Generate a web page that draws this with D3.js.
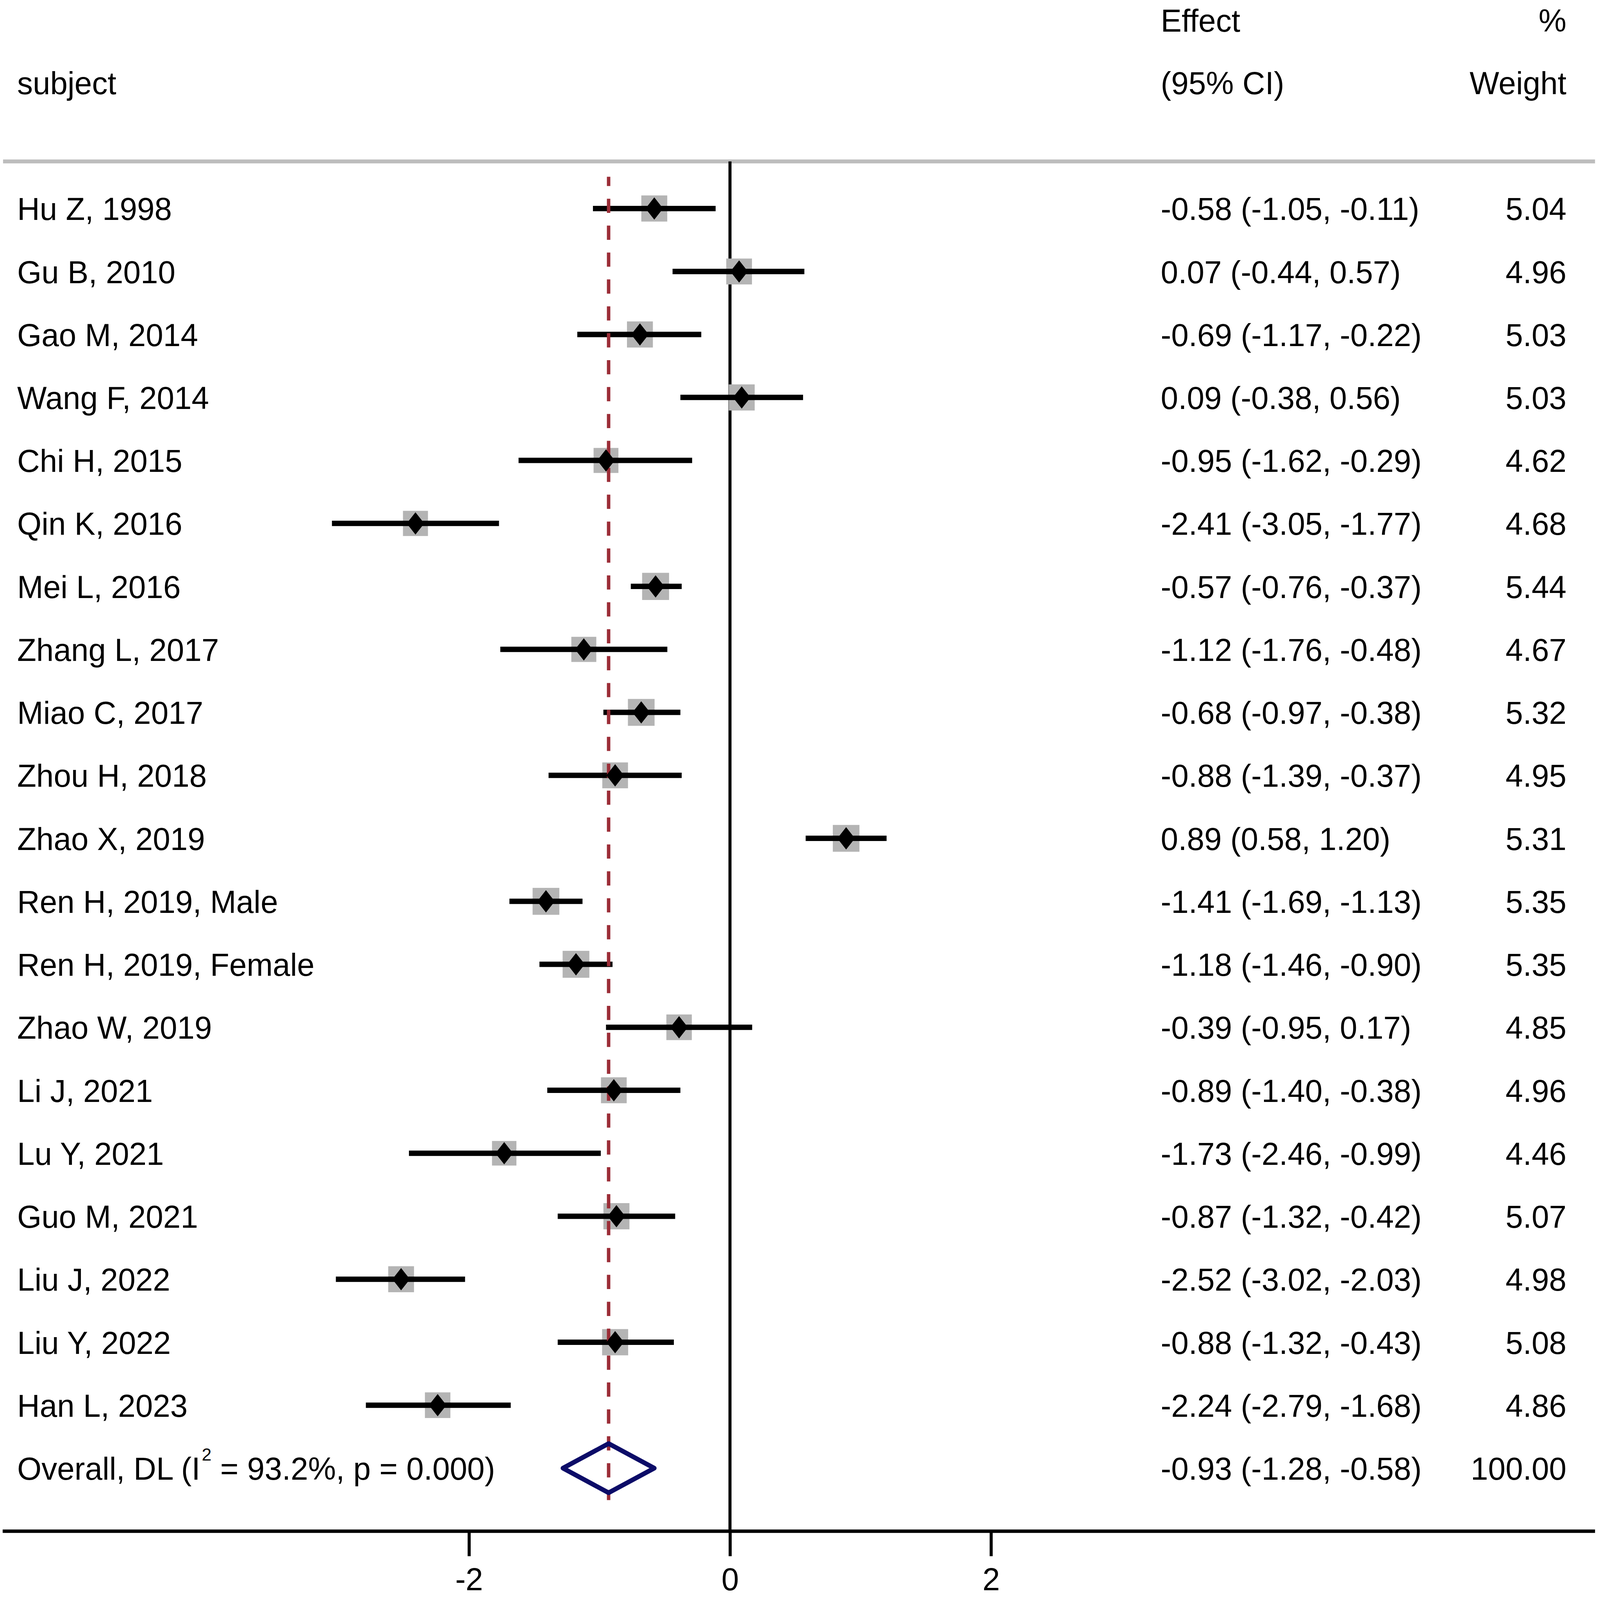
<!DOCTYPE html>
<html>
<head>
<meta charset="utf-8">
<script src="https://cdn.jsdelivr.net/npm/d3@7"></script>
<style>
  html, body { margin: 0; padding: 0; width: 100%; height: 100%; overflow: hidden; background: #fff; }
  #chart, #chart svg { display: block; width: 100vw; height: 100vh; }
  text { font-family: "Liberation Sans", Arial, sans-serif; fill: #000; }
</style>
</head>
<body>
<div id="chart"></div>
<script>
// Forest plot - random-effects meta-analysis (DL)
const studies = [
    "Hu Z, 1998", "Gu B, 2010", "Gao M, 2014", "Wang F, 2014", "Chi H, 2015",
    "Qin K, 2016", "Mei L, 2016", "Zhang L, 2017", "Miao C, 2017", "Zhou H, 2018",
    "Zhao X, 2019", "Ren H, 2019, Male", "Ren H, 2019, Female", "Zhao W, 2019", "Li J, 2021",
    "Lu Y, 2021", "Guo M, 2021", "Liu J, 2022", "Liu Y, 2022", "Han L, 2023"
];
const effects = [-0.58, 0.07, -0.69, 0.09, -0.95, -2.41, -0.57, -1.12, -0.68, -0.88,
    0.89, -1.41, -1.18, -0.39, -0.89, -1.73, -0.87, -2.52, -0.88, -2.24];
const lower = [-1.05, -0.44, -1.17, -0.38, -1.62, -3.05, -0.76, -1.76, -0.97, -1.39,
    0.58, -1.69, -1.46, -0.95, -1.40, -2.46, -1.32, -3.02, -1.32, -2.79];
const upper = [-0.11, 0.57, -0.22, 0.56, -0.29, -1.77, -0.37, -0.48, -0.38, -0.37,
    1.20, -1.13, -0.90, 0.17, -0.38, -0.99, -0.42, -2.03, -0.43, -1.68];
const weights = [5.04, 4.96, 5.03, 5.03, 4.62, 4.68, 5.44, 4.67, 5.32, 4.95,
    5.31, 5.35, 5.35, 4.85, 4.96, 4.46, 5.07, 4.98, 5.08, 4.86];

const overallEst = -0.93, overallLo = -1.28, overallHi = -0.58;
const overallI2 = "93.2%", overallP = "0.000";
const xTicks = [-2, 0, 2];

const W = 4193, H = 4163;
const fontSize = 82;
const colEffect = 3042, colWeight = 4105, colLabel = 45;
const sepY = 420, axisY = 3984;

const svg = d3.select("#chart")
    .append("svg")
    .attr("viewBox", `0 0 ${W} ${H}`)
    .attr("preserveAspectRatio", "none");

const x = d3.scaleLinear().domain([-2, 2]).range([1229, 2597]);
const y = d3.scaleLinear().domain([0, studies.length]).range([542.5, 3820]);
const box = d3.scaleSqrt().domain([0, 5.04]).range([0, 68]);

const fmt = v => v.toFixed(2);   // keep ASCII hyphen for negatives
const rows = studies.map((name, i) => ({
    name, i, es: effects[i], lo: lower[i], hi: upper[i], w: weights[i]
}));

// Header
const header = svg.append("g").attr("font-size", fontSize);
header.append("text").attr("x", colLabel).attr("y", 245).text("subject");
header.append("text").attr("x", colEffect).attr("y", 82).text("Effect");
header.append("text").attr("x", colEffect).attr("y", 245).text("(95% CI)");
header.append("text").attr("x", colWeight).attr("y", 82).attr("text-anchor", "end").text("%");
header.append("text").attr("x", colWeight).attr("y", 245).attr("text-anchor", "end").text("Weight");

// Separator under the header
svg.append("line")
    .attr("x1", 8).attr("x2", 4180)
    .attr("y1", sepY).attr("y2", sepY)
    .attr("stroke", "#bdbdbd").attr("stroke-width", 10);

// Null line
svg.append("line")
    .attr("x1", x(0)).attr("x2", x(0))
    .attr("y1", sepY).attr("y2", axisY)
    .attr("stroke", "#000").attr("stroke-width", 8);

// Weight boxes
svg.selectAll(".wbox")
    .data(rows)
    .enter()
    .append("rect")
    .attr("class", "wbox")
    .attr("x", d => x(d.es) - box(d.w) / 2)
    .attr("y", d => y(d.i) - box(d.w) / 2)
    .attr("width", d => box(d.w))
    .attr("height", d => box(d.w))
    .attr("fill", "#b4b4b4");

// Confidence intervals
svg.selectAll(".ci")
    .data(rows)
    .enter()
    .append("line")
    .attr("class", "ci")
    .attr("x1", d => x(d.lo)).attr("x2", d => x(d.hi))
    .attr("y1", d => y(d.i)).attr("y2", d => y(d.i))
    .attr("stroke", "#000").attr("stroke-width", 14);

// Overall effect line (dashed)
svg.append("line")
    .attr("x1", x(overallEst)).attr("x2", x(overallEst))
    .attr("y1", 460).attr("y2", 3903)
    .attr("stroke", "#9b2d37").attr("stroke-width", 9)
    .attr("stroke-dasharray", "37 33")
    .attr("stroke-dashoffset", 13);

// Point estimates
const mw = 23, mh = 29;
svg.selectAll(".pt")
    .data(rows)
    .enter()
    .append("path")
    .attr("class", "pt")
    .attr("d", d => {
        const cx = x(d.es), cy = y(d.i);
        return `M${cx},${cy - mh}L${cx + mw},${cy}L${cx},${cy + mh}L${cx - mw},${cy}Z`;
    })
    .attr("fill", "#000");

// Pooled diamond
const oy = y(studies.length);
svg.append("path")
    .attr("d", `M${x(overallLo)},${oy}L${x(overallEst)},${oy - 64}L${x(overallHi)},${oy}L${x(overallEst)},${oy + 64}Z`)
    .attr("fill", "none")
    .attr("stroke", "#0c0c68")
    .attr("stroke-width", 12)
    .attr("stroke-linejoin", "round");

// Row texts
const txt = svg.append("g").attr("font-size", fontSize);
txt.selectAll(".lab")
    .data(rows)
    .enter()
    .append("text")
    .attr("x", colLabel)
    .attr("y", d => y(d.i) + 30)
    .text(d => d.name);

txt.selectAll(".eff")
    .data(rows)
    .enter()
    .append("text")
    .attr("x", colEffect)
    .attr("y", d => y(d.i) + 30)
    .text(d => `${fmt(d.es)} (${fmt(d.lo)}, ${fmt(d.hi)})`);

txt.selectAll(".wt")
    .data(rows)
    .enter()
    .append("text")
    .attr("x", colWeight)
    .attr("y", d => y(d.i) + 30)
    .attr("text-anchor", "end")
    .text(d => fmt(d.w));

// Overall row text
const ot = txt.append("text").attr("x", colLabel).attr("y", oy + 30);
ot.append("tspan").text("Overall, DL (I");
ot.append("tspan").attr("dx", 4).attr("dy", -50).attr("font-size", 46).text("2");
ot.append("tspan").attr("dy", 50).text(` = ${overallI2}, p = ${overallP})`);

txt.append("text")
    .attr("x", colEffect).attr("y", oy + 30)
    .text(`${fmt(overallEst)} (${fmt(overallLo)}, ${fmt(overallHi)})`);
txt.append("text")
    .attr("x", colWeight).attr("y", oy + 30)
    .attr("text-anchor", "end")
    .text("100.00");

// X axis
svg.append("line")
    .attr("x1", 7).attr("x2", 4180)
    .attr("y1", axisY).attr("y2", axisY)
    .attr("stroke", "#000").attr("stroke-width", 9);

const axis = svg.append("g")
    .attr("transform", `translate(0,${axisY})`)
    .call(d3.axisBottom(x)
        .tickValues(xTicks)
        .tickSize(65)
        .tickPadding(30)
        .tickFormat(d => String(d)));
axis.select(".domain").remove();
axis.selectAll(".tick line").attr("stroke", "#000").attr("stroke-width", 8);
axis.selectAll(".tick text")
    .attr("font-size", fontSize)
    .attr("font-family", "'Liberation Sans', Arial, sans-serif")
    .attr("fill", "#000");
</script>
</body>
</html>
